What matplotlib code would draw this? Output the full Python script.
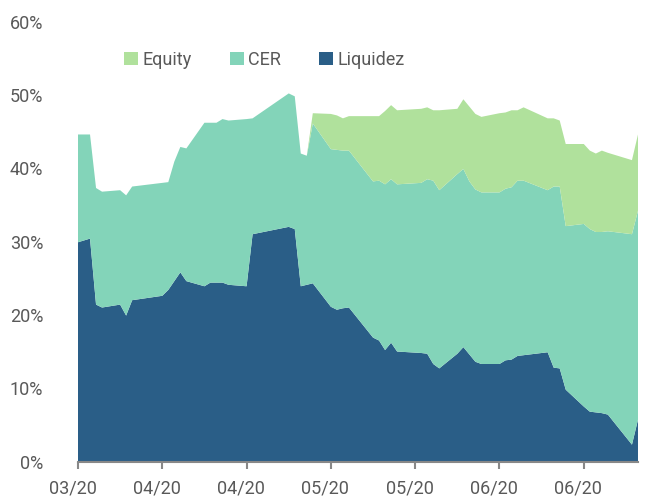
import numpy as np
import pandas as pd
import matplotlib
matplotlib.use("Agg")
import matplotlib.pyplot as plt
import matplotlib.dates as mdates
import matplotlib.transforms as mtransforms

plt.rcParams['font.family'] = ['Roboto', 'DejaVu Sans']

dates = ["2020-03-30", "2020-04-01", "2020-04-02", "2020-04-03", "2020-04-06", "2020-04-07",
         "2020-04-08", "2020-04-13", "2020-04-14", "2020-04-15", "2020-04-16", "2020-04-17",
         "2020-04-20", "2020-04-21", "2020-04-22", "2020-04-23", "2020-04-24", "2020-04-27",
         "2020-04-28", "2020-05-04", "2020-05-05", "2020-05-06", "2020-05-07", "2020-05-08",
         "2020-05-11", "2020-05-12", "2020-05-13", "2020-05-14", "2020-05-18", "2020-05-19",
         "2020-05-20", "2020-05-21", "2020-05-22", "2020-05-26", "2020-05-27", "2020-05-28",
         "2020-05-29", "2020-06-01", "2020-06-02", "2020-06-03", "2020-06-04", "2020-06-05",
         "2020-06-08", "2020-06-09", "2020-06-10", "2020-06-11", "2020-06-12", "2020-06-16",
         "2020-06-17", "2020-06-18", "2020-06-19", "2020-06-22", "2020-06-23", "2020-06-24",
         "2020-06-25", "2020-06-26", "2020-06-30", "2020-07-01"]

liquidez = [29.9, 30.4, 21.4, 21.0, 21.4, 19.9, 22.0, 22.6, 23.4, 24.6, 25.8, 24.6,
            23.9, 24.4, 24.4, 24.4, 24.1, 23.9, 31.0, 32.0, 31.7, 23.9, 24.1, 24.3,
            21.1, 20.7, 20.9, 21.0, 16.9, 16.5, 15.2, 16.2, 15.0, 14.8, 14.7, 13.3,
            12.7, 14.7, 15.6, 14.6, 13.6, 13.3, 13.3, 13.8, 13.9, 14.4, 14.5, 14.9,
            12.8, 12.7, 9.8, 7.5, 6.8, 6.7, 6.6, 6.4, 2.3, 5.7]

cer = [14.7, 14.2, 15.9, 15.8, 15.6, 16.4, 15.5, 15.4, 14.7, 16.3, 17.1, 18.1,
       22.3, 21.8, 21.8, 22.3, 22.4, 22.8, 15.8, 18.2, 18.1, 18.1, 17.6, 21.8,
       21.5, 21.8, 21.5, 21.4, 21.3, 21.8, 22.6, 22.3, 22.8, 23.2, 23.8, 25.0,
       24.3, 24.5, 24.3, 23.6, 23.5, 23.4, 23.4, 23.4, 23.5, 23.9, 23.8, 22.1,
       24.7, 24.8, 22.3, 24.9, 24.9, 24.6, 24.7, 25.0, 28.7, 28.5]

equity = [0, 0, 0, 0, 0, 0, 0, 0, 0, 0, 0, 0,
          0, 0, 0, 0, 0, 0, 0, 0, 0, 0, 0, 1.4,
          4.8, 4.7, 4.4, 4.7, 8.9, 8.8, 10.0, 10.1, 10.1, 10.1, 9.8, 9.6,
          10.9, 8.9, 9.5, 10.2, 10.3, 10.3, 10.8, 10.4, 10.5, 9.6, 10.0, 9.8,
          9.3, 9.0, 11.2, 10.9, 10.7, 10.7, 11.1, 10.7, 10.1, 10.4]

tick_dates = ["2020-03-30", "2020-04-13", "2020-04-27", "2020-05-11",
              "2020-05-25", "2020-06-08", "2020-06-22"]

x = pd.to_datetime(dates)

fig = plt.figure(figsize=(6.46, 5.01), dpi=100)
ax = fig.add_axes([0.1207, 0.0788, 0.8669, 0.8782])

colors = ['#2A5E87', '#83D4B9', '#B0E19C']
polys = ax.stackplot(x, liquidez, cer, equity, colors=colors,
                     labels=['Liquidez', 'CER', 'Equity'], linewidth=0)

ax.set_ylim(0, 60)
ax.set_xlim(x[0], x[-1])
ax.set_yticks(range(0, 61, 10))
ax.set_yticklabels([f"{v}%" for v in range(0, 61, 10)])

ax.set_xticks(pd.to_datetime(tick_dates))
ax.xaxis.set_major_formatter(mdates.DateFormatter('%m/%y'))

for s in ['top', 'right', 'left']:
    ax.spines[s].set_visible(False)
ax.spines['bottom'].set_color('#888888')
ax.spines['bottom'].set_linewidth(1.5)

ax.tick_params(axis='y', length=0, pad=25, labelsize=13, labelcolor='#595959')
ax.tick_params(axis='x', length=5, width=1.5, color='#888888', pad=8,
               labelsize=13, labelcolor='#595959')

shift = mtransforms.ScaledTranslation(-5.5 / 100, 0, fig.dpi_scale_trans)
for lab in ax.get_xticklabels():
    lab.set_transform(lab.get_transform() + shift)

handles = polys[::-1]
ax.legend(handles, ['Equity', 'CER', 'Liquidez'], loc='center left',
          bbox_to_anchor=(0.192, 0.880), bbox_transform=fig.transFigure,
          ncol=3, frameon=False, fontsize=13, labelcolor='#595959',
          handlelength=0.78, handleheight=0.7, handletextpad=0.25,
          columnspacing=2.1, borderpad=0, borderaxespad=0)

fig.savefig("out.png", dpi=100)
